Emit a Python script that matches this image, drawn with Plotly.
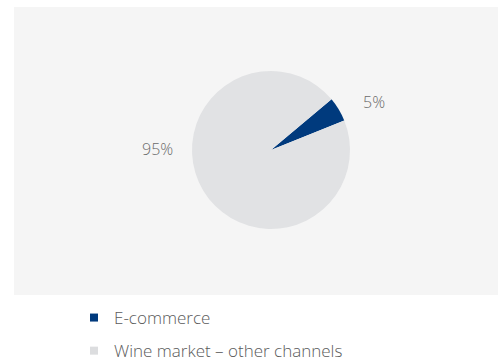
import plotly.graph_objects as go

# Share of wine market sales by channel
labels = ["E-commerce", "Wine market – other channels"]
values = [5, 95]
colors = ["#003a7d", "#e1e2e4"]
legend_colors = ["#003a7d", "#dcdddf"]

W, H = 498, 360
cx, cy, r = 271, 150, 79  # pie centre and radius in pixels

fig = go.Figure()

fig.add_trace(go.Pie(
    labels=labels,
    values=values,
    marker=dict(colors=colors, line=dict(width=0)),
    sort=False,
    direction="clockwise",
    rotation=50,
    textinfo="none",
    hoverinfo="label+percent",
    showlegend=False,
    domain=dict(x=[(cx - r) / W, (cx + r) / W],
                y=[1 - (cy + r) / H, 1 - (cy - r) / H]),
))

# Legend entries with small square swatches
for i, (lab, col) in enumerate(zip(labels, legend_colors)):
    fig.add_trace(go.Scatter(
        x=[None], y=[None], mode="markers", name=lab,
        legendgroup=f"g{i}",
        marker=dict(symbol="square", size=8, color=col),
    ))

# Percentage labels placed beside the slices
total = sum(values)
label_pos = [(374, 102), (157.5, 149)]
for v, (px, py) in zip(values, label_pos):
    fig.add_annotation(
        x=px / W, y=1 - py / H, xref="paper", yref="paper",
        text=f"{round(v / total * 100)}%", showarrow=False,
        font=dict(size=16, color="#6b6b6b", weight=300),
        xanchor="center", yanchor="middle",
    )

# Light grey panel behind the pie
fig.add_shape(type="rect", xref="paper", yref="paper",
              x0=14 / W, x1=1, y0=1 - 295 / H, y1=1 - 7 / H,
              fillcolor="#f5f5f5", line=dict(width=0), layer="below")

fig.update_layout(
    width=W, height=H,
    margin=dict(l=0, r=0, t=0, b=0, autoexpand=False),
    paper_bgcolor="white",
    plot_bgcolor="rgba(0,0,0,0)",
    font=dict(family="Open Sans", color="#5a5a5a", weight=300),
    xaxis=dict(visible=False),
    yaxis=dict(visible=False),
    showlegend=True,
    legend=dict(
        x=74 / W, y=1 - 300 / H, xanchor="left", yanchor="top",
        bgcolor="rgba(0,0,0,0)",
        font=dict(size=17, color="#5a5a5a", weight=300),
        tracegroupgap=8,
        itemclick=False, itemdoubleclick=False,
    ),
)

fig.write_html("out.html")
